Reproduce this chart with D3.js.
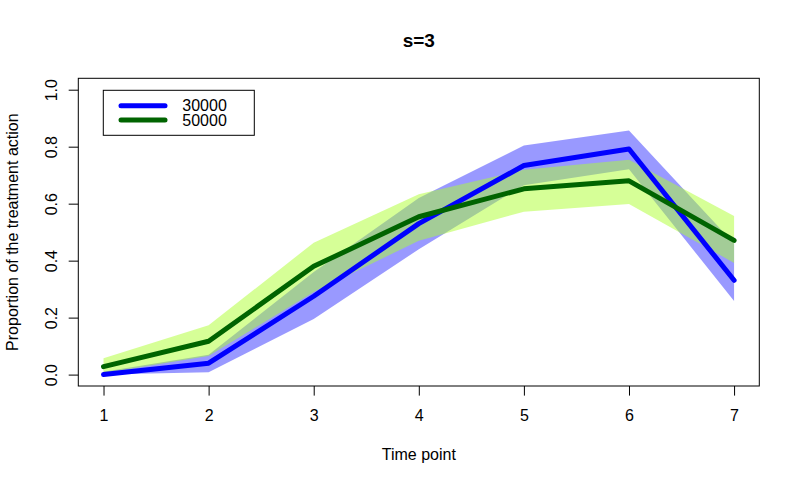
<!DOCTYPE html>
<html>
<head>
<meta charset="utf-8">
<script src="https://cdn.jsdelivr.net/npm/d3@7"></script>
<style>
  body { margin: 0; background: #fff; }
  svg { display: block; font-family: "Liberation Sans", Arial, sans-serif; }
</style>
</head>
<body>
<div id="root"></div>
<script>
// values
const timePoints = [1, 2, 3, 4, 5, 6, 7];
const yTicks = [0, 0.2, 0.4, 0.6, 0.8, 1.0];
const seriesNames = ['30000', '50000'];

const mean30000 = [0.0, 0.04, 0.275, 0.53, 0.734, 0.792, 0.331];
const lower30000 = [0.0, 0.008, 0.195, 0.44, 0.665, 0.721, 0.258];
const upper30000 = [0.01, 0.07, 0.36, 0.62, 0.804, 0.857, 0.46];

const mean50000 = [0.028, 0.117, 0.38, 0.554, 0.652, 0.68, 0.471];
const lower50000 = [0.005, 0.065, 0.29, 0.47, 0.572, 0.599, 0.392];
const upper50000 = [0.057, 0.173, 0.463, 0.633, 0.719, 0.754, 0.557];

const width = 800;
const height = 484;
const box = { left: 78.3, right: 759.3, top: 78.3, bottom: 386 };

const svg = d3.select('#root').append('svg')
  .attr('width', width)
  .attr('height', height);

// R pads the range by 4% on both sides
const xScale = d3.scaleLinear()
  .domain([0.76, 7.24])
  .range([box.left, box.right]);

const yScale = d3.scaleLinear()
  .domain([-0.04, 1.04])
  .range([box.bottom, box.top]);

const toRows = (mean, lower, upper) => timePoints.map((t, i) => ({
  x: t, y: mean[i], lo: lower[i], hi: upper[i]
}));

const series = [
  { name: seriesNames[0], rows: toRows(mean30000, lower30000, upper30000), line: '#0000ff', band: 'rgba(0,0,255,0.4)' },
  { name: seriesNames[1], rows: toRows(mean50000, lower50000, upper50000), line: '#006400', band: 'rgba(173,255,47,0.5)' },
];

const band = d3.area()
  .x(d => xScale(d.x))
  .y0(d => yScale(d.lo))
  .y1(d => yScale(d.hi));

const line = d3.line()
  .x(d => xScale(d.x))
  .y(d => yScale(d.y));

series.forEach(s => {
  svg.append('path')
    .datum(s.rows)
    .attr('d', band)
    .attr('fill', s.band)
    .attr('stroke', 'none');
});

series.forEach(s => {
  svg.append('path')
    .datum(s.rows)
    .attr('d', line)
    .attr('fill', 'none')
    .attr('stroke', s.line)
    .attr('stroke-width', 5)
    .attr('stroke-linecap', 'round')
    .attr('stroke-linejoin', 'round');
});

// plot box
svg.append('rect')
  .attr('x', box.left)
  .attr('y', box.top)
  .attr('width', box.right - box.left)
  .attr('height', box.bottom - box.top)
  .attr('fill', 'none')
  .attr('stroke', '#000')
  .attr('stroke-width', 1);

// axes
const xAxis = svg.append('g')
  .attr('transform', `translate(0, ${box.bottom})`)
  .call(d3.axisBottom(xScale)
    .tickValues(timePoints)
    .tickFormat(d3.format('d'))
    .tickSizeInner(9.6)
    .tickSizeOuter(0));
xAxis.select('.domain').remove();
xAxis.selectAll('line').attr('stroke', '#000');
xAxis.selectAll('text')
  .attr('y', 35)
  .attr('dy', null)
  .attr('fill', '#000')
  .style('font-size', '16px')
  .style('font-family', '"Liberation Sans", Arial, sans-serif');

const yAxis = svg.append('g')
  .attr('transform', `translate(${box.left}, 0)`)
  .call(d3.axisLeft(yScale)
    .tickValues(yTicks)
    .tickFormat(d3.format('.1f'))
    .tickSizeInner(9.6)
    .tickSizeOuter(0));
yAxis.select('.domain').remove();
yAxis.selectAll('line').attr('stroke', '#000');
yAxis.selectAll('text')
  .attr('transform', 'rotate(-90)')
  .attr('x', 0)
  .attr('y', -27.3)
  .attr('dy', '0.35em')
  .attr('text-anchor', 'middle')
  .attr('fill', '#000')
  .style('font-size', '16px')
  .style('font-family', '"Liberation Sans", Arial, sans-serif');

// titles
const midX = (box.left + box.right) / 2;
const midY = (box.top + box.bottom) / 2;

svg.append('text')
  .attr('x', midX)
  .attr('y', 47)
  .attr('text-anchor', 'middle')
  .style('font-size', '19px')
  .style('font-weight', 'bold')
  .text('s=3');

svg.append('text')
  .attr('x', midX)
  .attr('y', 460)
  .attr('text-anchor', 'middle')
  .style('font-size', '16px')
  .text('Time point');

svg.append('text')
  .attr('transform', `translate(18, ${midY}) rotate(-90)`)
  .attr('text-anchor', 'middle')
  .style('font-size', '16px')
  .text('Proportion of the treatment action');

// legend
const legend = svg.append('g');
legend.append('rect')
  .attr('x', 103.3)
  .attr('y', 90.3)
  .attr('width', 151)
  .attr('height', 45)
  .attr('fill', '#fff')
  .attr('stroke', '#000');

series.forEach((s, i) => {
  const ly = 105.7 + i * 14.3;
  legend.append('line')
    .attr('x1', 121).attr('x2', 165)
    .attr('y1', ly).attr('y2', ly)
    .attr('stroke', s.line)
    .attr('stroke-width', 5)
    .attr('stroke-linecap', 'round');
  legend.append('text')
    .attr('x', 182.3)
    .attr('y', ly)
    .attr('dy', '0.35em')
    .style('font-size', '16px')
    .text(s.name);
});
</script>
</body>
</html>
